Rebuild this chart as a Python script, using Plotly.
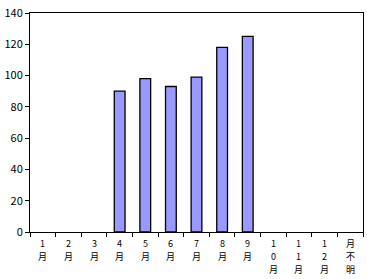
import plotly.graph_objects as go

categories = ["1月", "2月", "3月", "4月", "5月", "6月", "7月", "8月", "9月",
              "10月", "11月", "12月", "月不明"]
values = [None, None, None, 90, 98, 93, 99, 118, 125, None, None, None, None]
y_ticks = [0, 20, 40, 60, 80, 100, 120, 140]

font = "Noto Sans CJK JP"
fig = go.Figure(go.Bar(
    x=categories, y=values,
    marker=dict(color="#9999ff", line=dict(color="black", width=1.3)),
    width=0.42,
))

# vertical (stacked) category labels, one character per row
for cat in categories:
    for j, ch in enumerate(cat):
        fig.add_annotation(
            x=cat, xref="x", y=0, yref="paper", text=ch, showarrow=False,
            yanchor="top", yshift=-4 - 13.2 * j, borderpad=0,
            font=dict(family=font, size=9, color="black"),
        )

fig.update_layout(
    width=367, height=279,
    margin=dict(l=30, r=4, t=13, b=47),
    paper_bgcolor="white", plot_bgcolor="white",
    showlegend=False,
    font=dict(family=font, size=10, color="black"),
)
fig.update_xaxes(
    showline=True, linecolor="black", linewidth=1, mirror=True,
    ticks="outside", tickson="boundaries", ticklen=4, tickcolor="black",
    showgrid=False, showticklabels=False,
)
fig.update_yaxes(
    range=[0, 140], tickvals=y_ticks, showline=True, linecolor="black",
    linewidth=1, mirror=True, ticks="outside", ticklen=4, tickcolor="black",
    showgrid=False, zeroline=False, tickfont=dict(size=11, family=font),
)
fig.write_html("out.html")
